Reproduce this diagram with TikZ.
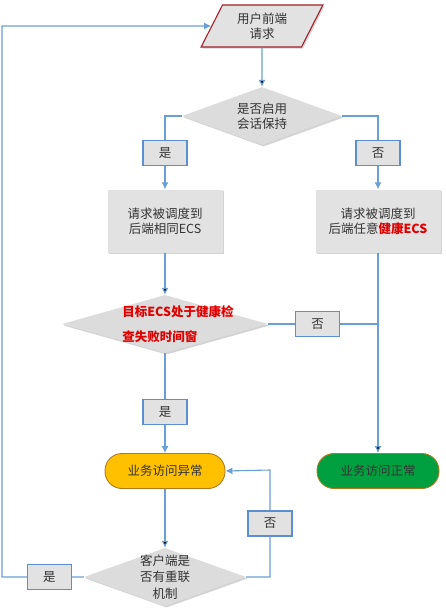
\documentclass[tikz,border=0pt]{standalone}
\usepackage{fontspec}
\setmainfont{Noto Sans CJK SC}
\usepackage{tikz}
\usetikzlibrary{shapes.geometric, arrows.meta, shadows}

\definecolor{flow}{HTML}{6A9FD4}
\definecolor{boxgray}{HTML}{E2E2E2}
\definecolor{askgray}{HTML}{DCDCDC}
\definecolor{tagblue}{HTML}{5B8FD0}
\definecolor{reqred}{HTML}{A3202A}
\definecolor{warnred}{HTML}{E00000}
\definecolor{txt}{HTML}{333333}
\definecolor{badfill}{HTML}{FFC000}
\definecolor{okfill}{HTML}{00A040}
\definecolor{rim}{HTML}{B07A20}

\tikzset{
    every node/.style={font=\fontsize{12.5}{15}\selectfont, text=txt},
    soft/.style={drop shadow={opacity=0.35, shadow xshift=1.5pt, shadow yshift=-1.5pt}},
    job/.style={rectangle, fill=boxgray, soft, minimum width=115pt, minimum height=63pt, align=center, inner sep=0pt},
    ask/.style={diamond, fill=askgray, soft, aspect=2.76, minimum width=160pt, minimum height=58pt, align=center, inner sep=-6pt},
    tag/.style={rectangle, draw=tagblue, fill=boxgray, line width=1.1pt, minimum width=44pt, minimum height=25pt, inner sep=0pt},
    term/.style={rectangle, rounded corners=17pt, draw=rim, line width=0.9pt, minimum width=120pt, minimum height=35pt, inner sep=0pt},
    link/.style={draw=flow, line width=1.1pt}
}

\begin{document}
\begin{tikzpicture}[x=1pt, y=1pt, ->, >={Latex[length=7pt,width=7pt]}, node distance=100pt]

    \useasboundingbox (0,0) rectangle (446,-616);

    \node[trapezium, trapezium left angle=63, trapezium right angle=117,
          draw=reqred, fill=boxgray, line width=1.1pt, soft, minimum width=110pt, minimum height=42pt,
          align=center, inner sep=0pt] (req) at (262,-26) {用户前端\\请求};

    \node[ask] (keep) [below of = req, node distance=90pt] {是否启用\\会话保持};

    \node[job] (same) [below of = keep, node distance=105pt, xshift=-97pt] {请求被调度到\\后端相同ECS};
    \node[job, minimum width=125pt] (any) [right of = same, node distance=213pt]
        {请求被调度到\\后端任意\textcolor{warnred}{\bfseries 健康ECS}};

    \node[ask, aspect=3.55, minimum width=206pt] (check) [below of = same, node distance=103pt] {};
    \node[align=left, text=warnred, font=\fontsize{12.5}{25}\selectfont\bfseries] (checktxt)
        at ([xshift=13pt]check.center) {目标ECS处于健康检\\查失败时间窗};

    \node[term, fill=badfill] (fail) [below of = check, node distance=147pt] {业务访问异常};
    \node[term, fill=okfill, minimum width=122pt] (ok) [right of = fail, node distance=213pt] {业务访问正常};

    \node[ask, minimum width=162pt, font=\fontsize{12.5}{16.5}\selectfont] (retry) [below of = fail, node distance=106pt]
        {客户端是\\否有重联\\机制};

    \coordinate (back) at (270,-470);
    \coordinate (edge) at (2,-26);

    \path[link]
    (req) edge (keep)
    (same) edge (check)
    (any) edge (ok)
    (fail) edge (retry)
    ;

    \draw[link] (keep.west) -| node[tag, pos=0.75, text=txt] (yes1) {是} (same.north);
    \draw[link] (keep.east) -| node[tag, pos=0.75, text=txt] (no1) {否} (any.north);
    \draw[link, -] (check.east) -- node[tag, pos=0.45, text=txt] (no2) {否} (check.east -| any.south);
    \draw[link] (check.south) -- node[tag, pos=0.59, text=txt] (yes2) {是} (fail.north);
    \draw[link] (retry.east) -| node[tag, pos=0.75, text=txt] (no3) {否} (back) -- (fail.east);
    \draw[link] (retry.west) -| node[tag, pos=0.21, text=txt] (yes3) {是} (edge) -- (req.west);

\end{tikzpicture}
\end{document}
